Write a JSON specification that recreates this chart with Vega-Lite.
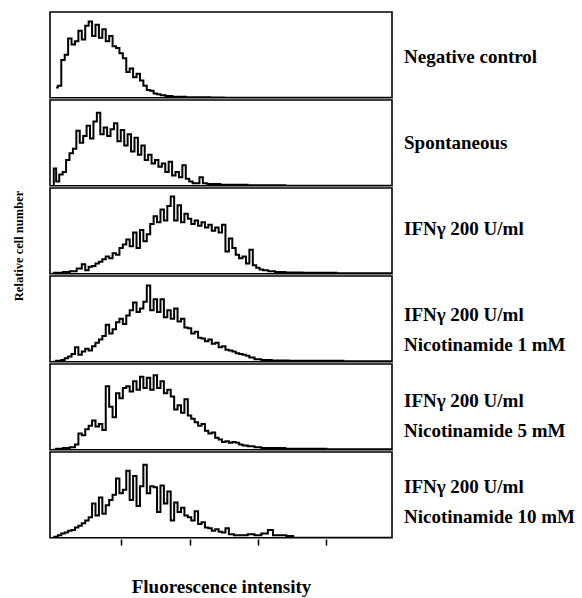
{
  "$schema": "https://vega.github.io/schema/vega-lite/v6.json",
  "padding": {"left": 12, "top": 11, "right": 0, "bottom": 0},
  "title": {"text": "Relative cell number", "orient": "left", "anchor": "middle", "font": "Liberation Serif", "fontWeight": "bold", "fontSize": 12.5, "color": "black", "offset": 24, "dx": 58},
  "datasets": {
    "labels": [
      {"s": 1, "label": "Negative control"},
      {"s": 2, "label": "Spontaneous"},
      {"s": 3, "label": "IFNγ 200 U/ml"},
      {"s": 4, "label": "IFNγ 200 U/ml|Nicotinamide 1 mM"},
      {"s": 5, "label": "IFNγ 200 U/ml|Nicotinamide 5 mM"},
      {"s": 6, "label": "IFNγ 200 U/ml|Nicotinamide 10 mM"}
    ],
    "hist": [
    {"s":1,"x":0.05,"y":12},{"s":1,"x":0.10,"y":14},{"s":1,"x":0.15,"y":44},{"s":1,"x":0.20,"y":50},{"s":1,"x":0.25,"y":69},{"s":1,"x":0.30,"y":62},{"s":1,"x":0.35,"y":66},{"s":1,"x":0.40,"y":78},{"s":1,"x":0.45,"y":68},{"s":1,"x":0.50,"y":84},{"s":1,"x":0.55,"y":89},{"s":1,"x":0.60,"y":72},{"s":1,"x":0.65,"y":85},{"s":1,"x":0.70,"y":70},{"s":1,"x":0.75,"y":80},{"s":1,"x":0.80,"y":66},{"s":1,"x":0.85,"y":72},{"s":1,"x":0.90,"y":60},{"s":1,"x":0.95,"y":58},{"s":1,"x":1.00,"y":52},{"s":1,"x":1.05,"y":46},{"s":1,"x":1.10,"y":30},{"s":1,"x":1.15,"y":34},{"s":1,"x":1.20,"y":24},{"s":1,"x":1.25,"y":28},{"s":1,"x":1.30,"y":20},{"s":1,"x":1.35,"y":14},{"s":1,"x":1.40,"y":9},{"s":1,"x":1.45,"y":8},{"s":1,"x":1.50,"y":5},{"s":1,"x":1.55,"y":4},{"s":1,"x":1.60,"y":3},{"s":1,"x":1.70,"y":2},{"s":1,"x":1.80,"y":1},{"s":1,"x":1.90,"y":1},{"s":1,"x":2.00,"y":0.5},{"s":1,"x":2.20,"y":0.5},{"s":1,"x":2.40,"y":0.3},{"s":1,"x":2.60,"y":0},{"s":1,"x":4.96,"y":0},
    {"s":2,"x":0.00,"y":0},{"s":2,"x":0.03,"y":20},{"s":2,"x":0.07,"y":5},{"s":2,"x":0.12,"y":13},{"s":2,"x":0.17,"y":16},{"s":2,"x":0.22,"y":30},{"s":2,"x":0.27,"y":38},{"s":2,"x":0.32,"y":43},{"s":2,"x":0.37,"y":64},{"s":2,"x":0.42,"y":50},{"s":2,"x":0.47,"y":58},{"s":2,"x":0.52,"y":70},{"s":2,"x":0.57,"y":55},{"s":2,"x":0.62,"y":75},{"s":2,"x":0.67,"y":85},{"s":2,"x":0.72,"y":60},{"s":2,"x":0.77,"y":68},{"s":2,"x":0.82,"y":58},{"s":2,"x":0.87,"y":66},{"s":2,"x":0.92,"y":73},{"s":2,"x":0.97,"y":52},{"s":2,"x":1.02,"y":65},{"s":2,"x":1.07,"y":47},{"s":2,"x":1.12,"y":60},{"s":2,"x":1.17,"y":40},{"s":2,"x":1.22,"y":56},{"s":2,"x":1.27,"y":36},{"s":2,"x":1.32,"y":47},{"s":2,"x":1.37,"y":30},{"s":2,"x":1.42,"y":36},{"s":2,"x":1.47,"y":26},{"s":2,"x":1.52,"y":30},{"s":2,"x":1.57,"y":22},{"s":2,"x":1.62,"y":26},{"s":2,"x":1.67,"y":16},{"s":2,"x":1.72,"y":28},{"s":2,"x":1.77,"y":12},{"s":2,"x":1.82,"y":16},{"s":2,"x":1.87,"y":10},{"s":2,"x":1.92,"y":24},{"s":2,"x":1.97,"y":8},{"s":2,"x":2.02,"y":5},{"s":2,"x":2.07,"y":3},{"s":2,"x":2.12,"y":3},{"s":2,"x":2.17,"y":10},{"s":2,"x":2.22,"y":3},{"s":2,"x":2.30,"y":2},{"s":2,"x":2.40,"y":2},{"s":2,"x":2.50,"y":1},{"s":2,"x":2.70,"y":1},{"s":2,"x":3.00,"y":0.5},{"s":2,"x":3.30,"y":0.5},{"s":2,"x":3.50,"y":0},{"s":2,"x":4.96,"y":0},
    {"s":3,"x":0.00,"y":1},{"s":3,"x":0.10,"y":1},{"s":3,"x":0.20,"y":2},{"s":3,"x":0.30,"y":3},{"s":3,"x":0.40,"y":6},{"s":3,"x":0.45,"y":11},{"s":3,"x":0.50,"y":4},{"s":3,"x":0.55,"y":8},{"s":3,"x":0.60,"y":9},{"s":3,"x":0.65,"y":12},{"s":3,"x":0.70,"y":14},{"s":3,"x":0.75,"y":17},{"s":3,"x":0.80,"y":20},{"s":3,"x":0.85,"y":18},{"s":3,"x":0.90,"y":24},{"s":3,"x":0.95,"y":22},{"s":3,"x":1.00,"y":30},{"s":3,"x":1.05,"y":34},{"s":3,"x":1.10,"y":40},{"s":3,"x":1.15,"y":32},{"s":3,"x":1.20,"y":48},{"s":3,"x":1.25,"y":30},{"s":3,"x":1.30,"y":51},{"s":3,"x":1.35,"y":38},{"s":3,"x":1.40,"y":46},{"s":3,"x":1.45,"y":58},{"s":3,"x":1.50,"y":67},{"s":3,"x":1.55,"y":60},{"s":3,"x":1.60,"y":75},{"s":3,"x":1.65,"y":62},{"s":3,"x":1.70,"y":79},{"s":3,"x":1.75,"y":90},{"s":3,"x":1.80,"y":62},{"s":3,"x":1.85,"y":80},{"s":3,"x":1.90,"y":60},{"s":3,"x":1.95,"y":70},{"s":3,"x":2.00,"y":64},{"s":3,"x":2.05,"y":58},{"s":3,"x":2.10,"y":62},{"s":3,"x":2.15,"y":56},{"s":3,"x":2.20,"y":60},{"s":3,"x":2.25,"y":54},{"s":3,"x":2.30,"y":57},{"s":3,"x":2.35,"y":50},{"s":3,"x":2.40,"y":54},{"s":3,"x":2.45,"y":48},{"s":3,"x":2.50,"y":57},{"s":3,"x":2.55,"y":26},{"s":3,"x":2.60,"y":41},{"s":3,"x":2.65,"y":30},{"s":3,"x":2.70,"y":22},{"s":3,"x":2.75,"y":18},{"s":3,"x":2.80,"y":20},{"s":3,"x":2.85,"y":12},{"s":3,"x":2.90,"y":28},{"s":3,"x":2.95,"y":10},{"s":3,"x":3.00,"y":7},{"s":3,"x":3.05,"y":5},{"s":3,"x":3.10,"y":4},{"s":3,"x":3.20,"y":3},{"s":3,"x":3.30,"y":2},{"s":3,"x":3.50,"y":1.5},{"s":3,"x":3.80,"y":1},{"s":3,"x":4.00,"y":1},{"s":3,"x":4.30,"y":0.5},{"s":3,"x":4.96,"y":0.5},
    {"s":4,"x":0.00,"y":0},{"s":4,"x":0.10,"y":1},{"s":4,"x":0.15,"y":2},{"s":4,"x":0.20,"y":4},{"s":4,"x":0.25,"y":6},{"s":4,"x":0.30,"y":9},{"s":4,"x":0.35,"y":17},{"s":4,"x":0.40,"y":8},{"s":4,"x":0.45,"y":12},{"s":4,"x":0.50,"y":15},{"s":4,"x":0.55,"y":13},{"s":4,"x":0.60,"y":18},{"s":4,"x":0.65,"y":22},{"s":4,"x":0.70,"y":26},{"s":4,"x":0.75,"y":30},{"s":4,"x":0.80,"y":43},{"s":4,"x":0.85,"y":33},{"s":4,"x":0.90,"y":38},{"s":4,"x":0.95,"y":46},{"s":4,"x":1.00,"y":50},{"s":4,"x":1.05,"y":44},{"s":4,"x":1.10,"y":54},{"s":4,"x":1.15,"y":60},{"s":4,"x":1.20,"y":69},{"s":4,"x":1.25,"y":58},{"s":4,"x":1.30,"y":62},{"s":4,"x":1.35,"y":70},{"s":4,"x":1.40,"y":89},{"s":4,"x":1.45,"y":60},{"s":4,"x":1.50,"y":73},{"s":4,"x":1.55,"y":58},{"s":4,"x":1.60,"y":73},{"s":4,"x":1.65,"y":52},{"s":4,"x":1.70,"y":60},{"s":4,"x":1.75,"y":50},{"s":4,"x":1.80,"y":62},{"s":4,"x":1.85,"y":47},{"s":4,"x":1.90,"y":50},{"s":4,"x":1.95,"y":40},{"s":4,"x":2.00,"y":39},{"s":4,"x":2.05,"y":33},{"s":4,"x":2.10,"y":35},{"s":4,"x":2.15,"y":28},{"s":4,"x":2.20,"y":27},{"s":4,"x":2.25,"y":24},{"s":4,"x":2.30,"y":26},{"s":4,"x":2.35,"y":21},{"s":4,"x":2.40,"y":22},{"s":4,"x":2.45,"y":17},{"s":4,"x":2.50,"y":18},{"s":4,"x":2.55,"y":14},{"s":4,"x":2.60,"y":13},{"s":4,"x":2.65,"y":12},{"s":4,"x":2.70,"y":10},{"s":4,"x":2.75,"y":9},{"s":4,"x":2.80,"y":8},{"s":4,"x":2.85,"y":7},{"s":4,"x":2.90,"y":5},{"s":4,"x":3.00,"y":3},{"s":4,"x":3.10,"y":2},{"s":4,"x":3.30,"y":1.5},{"s":4,"x":3.60,"y":1},{"s":4,"x":4.00,"y":1},{"s":4,"x":4.50,"y":0.5},{"s":4,"x":4.96,"y":0.5},
    {"s":5,"x":0.00,"y":0},{"s":5,"x":0.10,"y":1},{"s":5,"x":0.20,"y":2},{"s":5,"x":0.30,"y":3},{"s":5,"x":0.35,"y":6},{"s":5,"x":0.40,"y":19},{"s":5,"x":0.45,"y":17},{"s":5,"x":0.50,"y":24},{"s":5,"x":0.55,"y":28},{"s":5,"x":0.60,"y":34},{"s":5,"x":0.65,"y":27},{"s":5,"x":0.70,"y":30},{"s":5,"x":0.75,"y":23},{"s":5,"x":0.80,"y":74},{"s":5,"x":0.85,"y":50},{"s":5,"x":0.90,"y":38},{"s":5,"x":0.95,"y":66},{"s":5,"x":1.00,"y":60},{"s":5,"x":1.05,"y":72},{"s":5,"x":1.10,"y":74},{"s":5,"x":1.15,"y":68},{"s":5,"x":1.20,"y":80},{"s":5,"x":1.25,"y":70},{"s":5,"x":1.30,"y":85},{"s":5,"x":1.35,"y":72},{"s":5,"x":1.40,"y":84},{"s":5,"x":1.45,"y":70},{"s":5,"x":1.50,"y":87},{"s":5,"x":1.55,"y":72},{"s":5,"x":1.60,"y":80},{"s":5,"x":1.65,"y":66},{"s":5,"x":1.70,"y":70},{"s":5,"x":1.75,"y":62},{"s":5,"x":1.80,"y":47},{"s":5,"x":1.85,"y":52},{"s":5,"x":1.90,"y":43},{"s":5,"x":1.95,"y":59},{"s":5,"x":2.00,"y":40},{"s":5,"x":2.05,"y":36},{"s":5,"x":2.10,"y":32},{"s":5,"x":2.15,"y":28},{"s":5,"x":2.20,"y":30},{"s":5,"x":2.25,"y":22},{"s":5,"x":2.30,"y":19},{"s":5,"x":2.35,"y":20},{"s":5,"x":2.40,"y":14},{"s":5,"x":2.45,"y":12},{"s":5,"x":2.50,"y":9},{"s":5,"x":2.55,"y":10},{"s":5,"x":2.60,"y":8},{"s":5,"x":2.65,"y":9},{"s":5,"x":2.70,"y":8},{"s":5,"x":2.75,"y":6},{"s":5,"x":2.80,"y":5},{"s":5,"x":2.90,"y":4},{"s":5,"x":3.00,"y":3},{"s":5,"x":3.10,"y":2},{"s":5,"x":3.30,"y":2},{"s":5,"x":3.50,"y":1},{"s":5,"x":3.80,"y":1},{"s":5,"x":4.20,"y":0.5},{"s":5,"x":4.96,"y":0.5},
    {"s":6,"x":0.00,"y":0},{"s":6,"x":0.05,"y":1},{"s":6,"x":0.10,"y":3},{"s":6,"x":0.15,"y":5},{"s":6,"x":0.20,"y":6},{"s":6,"x":0.25,"y":8},{"s":6,"x":0.30,"y":9},{"s":6,"x":0.35,"y":12},{"s":6,"x":0.40,"y":14},{"s":6,"x":0.45,"y":17},{"s":6,"x":0.50,"y":20},{"s":6,"x":0.55,"y":24},{"s":6,"x":0.60,"y":40},{"s":6,"x":0.65,"y":26},{"s":6,"x":0.70,"y":47},{"s":6,"x":0.75,"y":28},{"s":6,"x":0.80,"y":38},{"s":6,"x":0.85,"y":44},{"s":6,"x":0.90,"y":50},{"s":6,"x":0.95,"y":69},{"s":6,"x":1.00,"y":52},{"s":6,"x":1.05,"y":56},{"s":6,"x":1.10,"y":78},{"s":6,"x":1.15,"y":44},{"s":6,"x":1.20,"y":72},{"s":6,"x":1.25,"y":37},{"s":6,"x":1.30,"y":60},{"s":6,"x":1.35,"y":85},{"s":6,"x":1.40,"y":52},{"s":6,"x":1.45,"y":60},{"s":6,"x":1.50,"y":59},{"s":6,"x":1.55,"y":30},{"s":6,"x":1.60,"y":61},{"s":6,"x":1.65,"y":40},{"s":6,"x":1.70,"y":54},{"s":6,"x":1.75,"y":20},{"s":6,"x":1.80,"y":41},{"s":6,"x":1.85,"y":30},{"s":6,"x":1.90,"y":35},{"s":6,"x":1.95,"y":26},{"s":6,"x":2.00,"y":24},{"s":6,"x":2.05,"y":20},{"s":6,"x":2.10,"y":31},{"s":6,"x":2.15,"y":16},{"s":6,"x":2.20,"y":18},{"s":6,"x":2.25,"y":12},{"s":6,"x":2.30,"y":11},{"s":6,"x":2.35,"y":8},{"s":6,"x":2.40,"y":10},{"s":6,"x":2.45,"y":7},{"s":6,"x":2.50,"y":6},{"s":6,"x":2.55,"y":11},{"s":6,"x":2.60,"y":4},{"s":6,"x":2.70,"y":3},{"s":6,"x":2.80,"y":3},{"s":6,"x":2.90,"y":4},{"s":6,"x":3.00,"y":3},{"s":6,"x":3.10,"y":5},{"s":6,"x":3.19,"y":9},{"s":6,"x":3.25,"y":3},{"s":6,"x":3.35,"y":3},{"s":6,"x":3.48,"y":2},{"s":6,"x":3.55,"y":0},{"s":6,"x":4.96,"y":0}
    ]
  },
  "hconcat": [
    {
      "data": {"name": "hist"},
      "facet": {
        "row": {"field": "s", "type": "ordinal", "title": null, "header": {"labels": false}}
      },
      "spacing": {"row": 0},
      "spec": {
        "width": 342,
        "height": 85.7,
        "mark": {"type": "line", "interpolate": "step", "color": "black", "strokeWidth": 2, "clip": true},
        "encoding": {
          "x": {
            "field": "x", "type": "quantitative",
            "scale": {"domain": [-0.04, 4.96], "nice": false, "zero": false},
            "axis": {
              "values": [1, 2, 3, 4], "labels": false, "grid": false, "domain": false,
              "ticks": true, "tickSize": 6, "tickColor": "black", "tickWidth": 1.5,
              "title": "Fluorescence intensity", "titleFont": "Liberation Serif", "titleFontWeight": "bold",
              "titleFontSize": 19, "titleColor": "black", "titlePadding": 32
            }
          },
          "y": {
            "field": "y", "type": "quantitative",
            "scale": {"domain": [0, 100], "nice": false},
            "axis": null
          }
        }
      }
    },
    {
      "data": {"name": "labels"},
      "facet": {
        "row": {"field": "s", "type": "ordinal", "title": null, "header": {"labels": false}}
      },
      "spacing": {"row": 0},
      "spec": {
        "width": 2,
        "height": 85.7,
        "view": {"stroke": null},
        "mark": {"type": "text", "align": "left", "baseline": "middle", "lineBreak": "|", "lineHeight": 30, "font": "Liberation Serif", "fontWeight": "bold", "fontSize": 19, "color": "black", "dy": 2},
        "encoding": {
          "text": {"field": "label", "type": "nominal"}
        }
      }
    }
  ],
  "spacing": 10,
  "config": {
    "view": {"stroke": "black", "strokeWidth": 1.6},
    "background": "white"
  }
}
